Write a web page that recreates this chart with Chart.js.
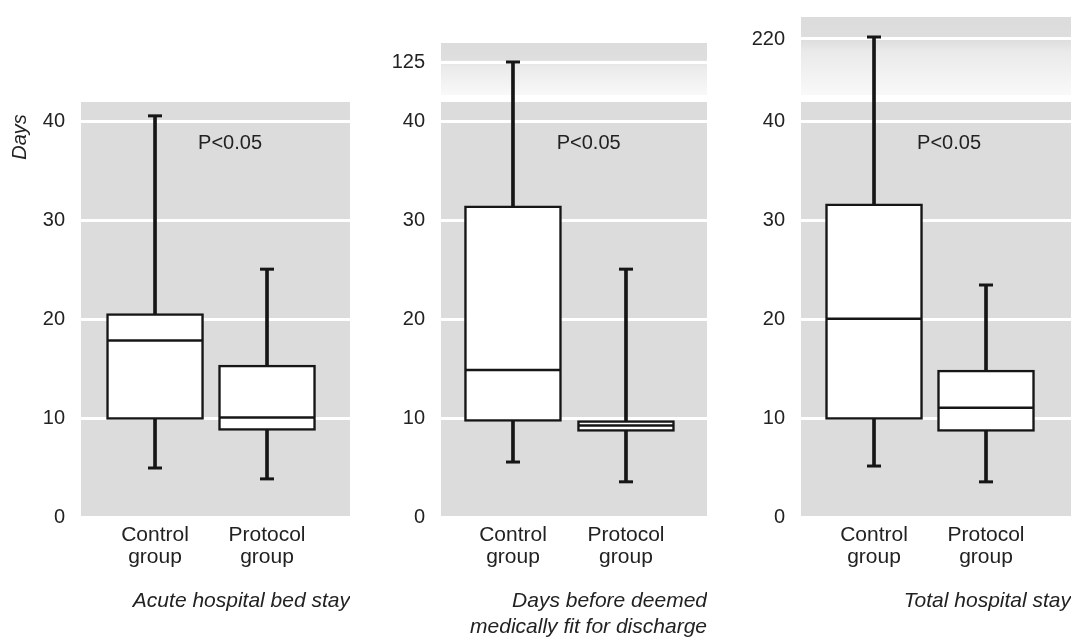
<!DOCTYPE html>
<html>
<head>
<meta charset="utf-8">
<script src="https://cdn.jsdelivr.net/npm/chart.js@4.4.1/dist/chart.umd.min.js"></script>
<style>
  html, body { margin: 0; padding: 0; background: #fff; overflow: hidden; }
  #wrap { position: relative; width: 1071px; height: 638px; }
  canvas { position: absolute; top: 0; }
</style>
</head>
<body>
<div id="wrap">
  <canvas id="acute" width="350" height="614" style="left:0px"></canvas>
  <canvas id="fit" width="347" height="640" style="left:360px"></canvas>
  <canvas id="total" width="351" height="614" style="left:720px"></canvas>
</div>
<script>
// ---- groups and axis ticks ----
const groupLabels = [['Control', 'group'], ['Protocol', 'group']];
const groupX = [1, 2];
const lowerTicks = [0, 10, 20, 30, 40];
const fitTicks = [0, 10, 20, 30, 40, 125];
const totalTicks = [0, 10, 20, 30, 40, 220];

// ---- Acute hospital bed stay (days) ----
const acuteMin    = [5.0, 3.9];
const acuteQ1     = [9.9, 8.8];
const acuteMedian = [17.9, 10.1];
const acuteQ3     = [20.6, 15.4];
const acuteMax    = [40.6, 25.1];

// ---- Days before deemed medically fit for discharge ----
const fitMin    = [5.6, 3.6];
const fitQ1     = [9.7, 8.7];
const fitMedian = [14.9, 9.3];
const fitQ3     = [31.5, 9.8];
const fitMax    = [125, 25.1];

// ---- Total hospital stay (days) ----
const totalMin    = [5.2, 3.6];
const totalQ1     = [9.9, 8.7];
const totalMedian = [20.1, 11.1];
const totalQ3     = [31.7, 14.9];
const totalMax    = [220.2, 23.5];

const pText = 'P<0.05';
const ink = '#161616';
const panelGrey = '#dcdcdc';
const fontFamily = '"Liberation Sans", Arial, sans-serif';

Chart.defaults.font.family = fontFamily;
Chart.defaults.color = '#222';
Chart.defaults.animation = false;

// Linear scale with a broken axis: a lower block [min, lowerMax] and an
// upper block [upperMin, max] drawn in a short band above it.
class BrokenLinearScale extends Chart.LinearScale {
  getPixelForValue(value) {
    const seg = this.options.segments;
    const top = this.top, bottom = this.bottom;
    const lowerPx = bottom - top - seg.upperPx - seg.gapPx;
    const lowerTop = bottom - lowerPx;
    const span = seg.lowerMax - this.min;
    if (value <= seg.lowerMax || seg.upperPx <= 0) {
      return bottom - (value - this.min) / span * lowerPx;
    }
    const upperBottom = top + seg.upperPx;
    if (value >= seg.upperMin) {
      return top + (this.max - value) / (this.max - seg.upperMin) * seg.upperPx;
    }
    return lowerTop + (value - seg.lowerMax) / (seg.upperMin - seg.lowerMax) * (upperBottom - lowerTop);
  }
}
BrokenLinearScale.id = 'brokenLinear';
BrokenLinearScale.defaults = Chart.LinearScale.defaults;
Chart.register(BrokenLinearScale);

// grey plot panels (the upper block fades out towards the break)
const panelBackground = {
  id: 'panelBackground',
  beforeDraw(chart) {
    const { ctx, chartArea: a, scales: { y } } = chart;
    const seg = y.options.segments;
    const lowerTop = y.getPixelForValue(seg.lowerMax);
    ctx.save();
    ctx.fillStyle = panelGrey;
    ctx.fillRect(a.left, lowerTop, a.right - a.left, a.bottom - lowerTop);
    if (seg.upperPx > 0) {
      const g = ctx.createLinearGradient(0, a.top, 0, a.top + seg.upperPx);
      g.addColorStop(0, panelGrey);
      g.addColorStop(0.3, '#dedede');
      g.addColorStop(0.45, '#eaeaea');
      g.addColorStop(1, '#f9f9f9');
      ctx.fillStyle = g;
      ctx.fillRect(a.left, a.top, a.right - a.left, seg.upperPx);
    }
    ctx.restore();
  }
};

// medians, whisker caps and the P value text
const boxDetails = {
  id: 'boxDetails',
  afterDatasetsDraw(chart, args, opts) {
    const { ctx, scales: { x, y } } = chart;
    const boxes = chart.getDatasetMeta(1).data;
    ctx.save();
    ctx.strokeStyle = ink;
    groupX.forEach((gx, i) => {
      const cx = x.getPixelForValue(gx);
      const half = boxes[i].width / 2;
      ctx.lineWidth = 2.5;
      const my = y.getPixelForValue(opts.median[i]);
      ctx.beginPath();
      ctx.moveTo(cx - half + 1, my);
      ctx.lineTo(cx + half - 1, my);
      ctx.stroke();
      ctx.lineWidth = 3;
      [opts.min[i], opts.max[i]].forEach(v => {
        const py = y.getPixelForValue(v);
        ctx.beginPath();
        ctx.moveTo(cx - 7, py);
        ctx.lineTo(cx + 7, py);
        ctx.stroke();
      });
    });
    ctx.fillStyle = '#222';
    ctx.font = '20px ' + fontFamily;
    ctx.textAlign = 'center';
    ctx.textBaseline = 'middle';
    ctx.fillText(pText, x.getPixelForValue(opts.pAt[0]), y.getPixelForValue(opts.pAt[1]));
    ctx.restore();
  }
};

// rotated axis caption on the first panel
const daysCaption = {
  id: 'daysCaption',
  afterDraw(chart) {
    const { ctx } = chart;
    ctx.save();
    ctx.translate(20, 137);
    ctx.rotate(-Math.PI / 2);
    ctx.fillStyle = '#222';
    ctx.font = 'italic 20px ' + fontFamily;
    ctx.textAlign = 'center';
    ctx.textBaseline = 'middle';
    ctx.fillText('Days', 0, 0);
    ctx.restore();
  }
};

function makePanel(id, p) {
  const plugins = [panelBackground, boxDetails];
  if (p.caption) plugins.push(daysCaption);
  return new Chart(document.getElementById(id), {
    type: 'bar',
    data: {
      datasets: [
        {
          label: 'range',
          data: groupX.map((gx, i) => ({ x: gx, y: [p.min[i], p.max[i]] })),
          backgroundColor: ink,
          barThickness: 3,
          grouped: false,
          order: 2
        },
        {
          label: 'interquartile',
          data: groupX.map((gx, i) => ({ x: gx, y: [p.q1[i], p.q3[i]] })),
          backgroundColor: '#ffffff',
          borderColor: ink,
          borderWidth: 2.5,
          borderSkipped: false,
          barThickness: 97,
          grouped: false,
          order: 1
        }
      ]
    },
    plugins,
    options: {
      responsive: false,
      events: [],
      layout: { padding: { top: p.top, left: 0, right: 0, bottom: 0 } },
      plugins: {
        legend: { display: false },
        tooltip: { enabled: false },
        title: {
          display: true,
          text: p.title,
          position: 'bottom',
          align: 'end',
          color: '#222',
          font: { size: 21, style: 'italic', weight: 'normal', lineHeight: 1.24 },
          padding: { top: 8.5, bottom: 0 }
        },
        boxDetails: { min: p.min, max: p.max, median: p.median, pAt: [1.67, 37.8] }
      },
      scales: {
        x: {
          type: 'linear',
          offset: false,
          min: p.xMin,
          max: p.xMax,
          grid: { display: false, drawTicks: false, offset: false },
          border: { display: false },
          afterBuildTicks: s => { s.ticks = groupX.map(v => ({ value: v })); },
          afterFit: s => { s.height = 62; },
          ticks: {
            autoSkip: false,
            maxRotation: 0,
            padding: 6.5,
            color: '#222',
            font: { size: 21, lineHeight: 1.05 },
            callback: v => groupLabels[groupX.indexOf(v)]
          }
        },
        y: {
          type: 'brokenLinear',
          min: 0,
          max: p.yMax,
          segments: p.segments,
          grid: { color: '#ffffff', lineWidth: 3, drawTicks: false },
          border: { display: false },
          afterBuildTicks: s => { s.ticks = p.yTicks.map(v => ({ value: v })); },
          afterFit: s => { s.width = 81; s.paddingTop = 0; s.paddingBottom = 0; },
          ticks: { padding: 16, color: '#222', font: { size: 20 } }
        }
      }
    }
  });
}

makePanel('acute', {
  title: 'Acute hospital bed stay',
  caption: true,
  min: acuteMin, q1: acuteQ1, median: acuteMedian, q3: acuteQ3, max: acuteMax,
  yTicks: lowerTicks, yMax: 42,
  segments: { lowerMax: 42, upperMin: 42, upperPx: 0, gapPx: 0 },
  top: 102, xMin: 0.339, xMax: 2.741
});

makePanel('fit', {
  title: ['Days before deemed', 'medically fit for discharge'],
  min: fitMin, q1: fitQ1, median: fitMedian, q3: fitQ3, max: fitMax,
  yTicks: fitTicks, yMax: 126.9,
  segments: { lowerMax: 42, upperMin: 121.7, upperPx: 52, gapPx: 7 },
  top: 43, xMin: 0.363, xMax: 2.717
});

makePanel('total', {
  title: 'Total hospital stay',
  min: totalMin, q1: totalQ1, median: totalMedian, q3: totalQ3, max: totalMax,
  yTicks: totalTicks, yMax: 222.2,
  segments: { lowerMax: 42, upperMin: 214.4, upperPx: 78, gapPx: 7 },
  top: 17, xMin: 0.348, xMax: 2.759
});
</script>
</body>
</html>
